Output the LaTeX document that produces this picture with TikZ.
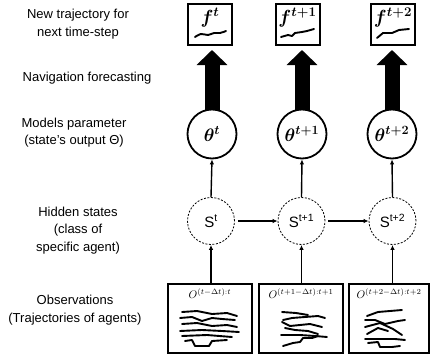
\RequirePackage{fix-cm}
\documentclass[tikz,border=0pt]{standalone}
\usepackage{fontspec}
\setmainfont{Liberation Sans}
\usepackage{bm}
\usetikzlibrary{arrows.meta}

\begin{document}
\begin{tikzpicture}[x=1pt,y=-1pt,font=\fontsize{13}{17.5}\selectfont]
    \tikzset{
        predbox/.style={draw,line width=2pt,minimum width=44pt,minimum height=41pt,inner sep=0pt},
        predlab/.style={inner sep=0pt,font=\fontsize{19}{19}\selectfont},
        obsbox/.style={draw,line width=1.8pt,minimum width=84pt,minimum height=69pt,inner sep=0pt},
        obslab/.style={inner sep=0pt,font=\fontsize{11}{11}\selectfont},
        parcirc/.style={circle,draw,line width=1.8pt,minimum size=49pt,inner sep=0pt,
            font=\fontsize{18}{18}\selectfont},
        hidcirc/.style={circle,draw,dash pattern=on 2pt off 1.5pt,line width=0.8pt,
            minimum size=47pt,inner sep=0pt,font=\fontsize{15}{15}\selectfont},
        forecast/.style={line width=15pt,shorten <=-1pt,shorten >=4pt,
            -{Triangle[width=30pt,length=15pt]}},
        link/.style={line width=1.4pt,-{Latex[length=5pt,width=4.5pt]}},
        traj/.style={line width=1.9pt,line cap=round,line join=round},
        sidelabel/.style={align=center}
    }
    \useasboundingbox (0,0) rectangle (432,362);

    % left column of labels
    \node[sidelabel] (newtraj) at (78,24) {New trajectory for\\next time-step};
    \node[sidelabel] (navfc) at (87,78) {Navigation forecasting};
    \node[sidelabel] (modpar) at (74,132.5) {Models parameter\\(state's output Θ)};
    \node[sidelabel] (hidst) at (78,230.5) {Hidden states\\(class of\\specific agent)};
    \node[sidelabel] (obsv) at (75,310) {Observations\\(Trajectories of agents)};

    % predicted trajectories
    \node[predbox] (f0) at (210,24.5) {};
    \node[predbox] (f1) at (297.5,24.5) {};
    \node[predbox] (f2) at (393,24.5) {};
    \node[predlab] (f0lab) at ([yshift=-15pt] f0.north) {$\bm{f^{t}}$};
    \node[predlab] (f1lab) at ([yshift=-15pt] f1.north) {$\bm{f^{t+1}}$};
    \node[predlab] (f2lab) at ([yshift=-15pt] f2.north) {$\bm{f^{t+2}}$};
    \draw[traj] plot[smooth,tension=0.6] coordinates {(195,37) (201,34) (208,35) (214,33) (220,33) (226,31)};
    \draw[traj] (281,37) -- (288,35) -- (292,36) -- (295,33) -- (302,32) -- (307,31) -- (314,29);
    \draw[traj] (377,38) -- (383,33) -- (392,33) -- (399,30) -- (409,29);

    % model parameters
    \node[parcirc] (th0) at (212,134) {$\bm{\theta^{t}}$};
    \node[parcirc] (th1) at (302,134) {$\bm{\theta^{t+1}}$};
    \node[parcirc] (th2) at (392,134) {$\bm{\theta^{t+2}}$};

    % hidden states
    \node[hidcirc] (s0) at (211,221) {S\textsuperscript{t}};
    \node[hidcirc] (s1) at (301.5,221) {S\textsuperscript{t+1}};
    \node[hidcirc] (s2) at (392.5,221) {S\textsuperscript{t+2}};

    % observations
    \node[obsbox] (o0) at (210,318.5) {};
    \node[obsbox] (o1) at (301,318.5) {};
    \node[obsbox,minimum width=80pt] (o2) at (389,318.5) {};
    \node[obslab] (o0lab) at ([yshift=-11pt] o0.north) {$O^{(t-\Delta t):t}$};
    \node[obslab] (o1lab) at ([yshift=-11pt] o1.north) {$O^{(t+1-\Delta t):t+1}$};
    \node[obslab] (o2lab) at ([yshift=-11pt] o2.north) {$O^{(t+2-\Delta t):t+2}$};

    \draw[traj] (182,312) -- (197,311) -- (212,314) -- (227,313) -- (237,316);
    \draw[traj] (180,318) -- (192,317) -- (202,321) -- (212,318) -- (222,319) -- (235,320);
    \draw[traj] (182,324) -- (197,323) -- (212,326) -- (227,325) -- (237,327);
    \draw[traj] (180,331) -- (202,330) -- (222,331) -- (239,332);
    \draw[traj] (182,336) -- (207,335) -- (232,337);
    \draw[traj] (185,341) -- (192,340) -- (195,346) -- (209,346) -- (212,341) -- (227,340);

    \draw[traj] (282,312) -- (296,313) -- (308,315);
    \draw[traj] (283,320) -- (292,318) -- (305,317) -- (318,316) -- (325,318);
    \draw[traj] (282,322) -- (290,326) -- (300,325) -- (310,324) -- (322,327);
    \draw[traj] (285,328) -- (295,330) -- (308,331) -- (318,334);
    \draw[traj] (281,335) -- (300,335) -- (315,336) -- (327,337);
    \draw[traj] (283,346) -- (293,343) -- (300,342) -- (303,338) -- (312,338) -- (318,336);

    \draw[traj] (367,316) -- (378,312) -- (390,311) -- (402,310);
    \draw[traj] (365,320) -- (375,320) -- (385,324) -- (398,321) -- (405,320);
    \draw[traj] (365,327) -- (380,323) -- (393,329) -- (402,335);
    \draw[traj] (367,334) -- (378,328) -- (388,331);
    \draw[traj] (365,339) -- (380,339) -- (395,339) -- (405,340);
    \draw[traj] (368,343) -- (378,342) -- (380,347) -- (392,347) -- (400,346);

    % connectors
    \draw[forecast] (th0.north) -- (th0.north |- f0.south);
    \draw[forecast] (th1.north) -- (th1.north |- f1.south);
    \draw[forecast] (th2.north) -- (th2.north |- f2.south);
    \draw[link] (s0.north) -- (th0.south);
    \draw[link] (s1.north) -- (th1.south);
    \draw[link] (s2.north) -- (th2.south);
    \draw[link,shorten <=3pt] (s0.east) -- (s1.west);
    \draw[link,shorten <=3pt] (s1.east) -- (s2.west);
    \draw[link] (o0.north -| s0) -- (s0.south);
    \draw[link] (o1.north -| s1) -- (s1.south);
    \draw[link] (o2.north -| s2) -- (s2.south);
\end{tikzpicture}
\end{document}
